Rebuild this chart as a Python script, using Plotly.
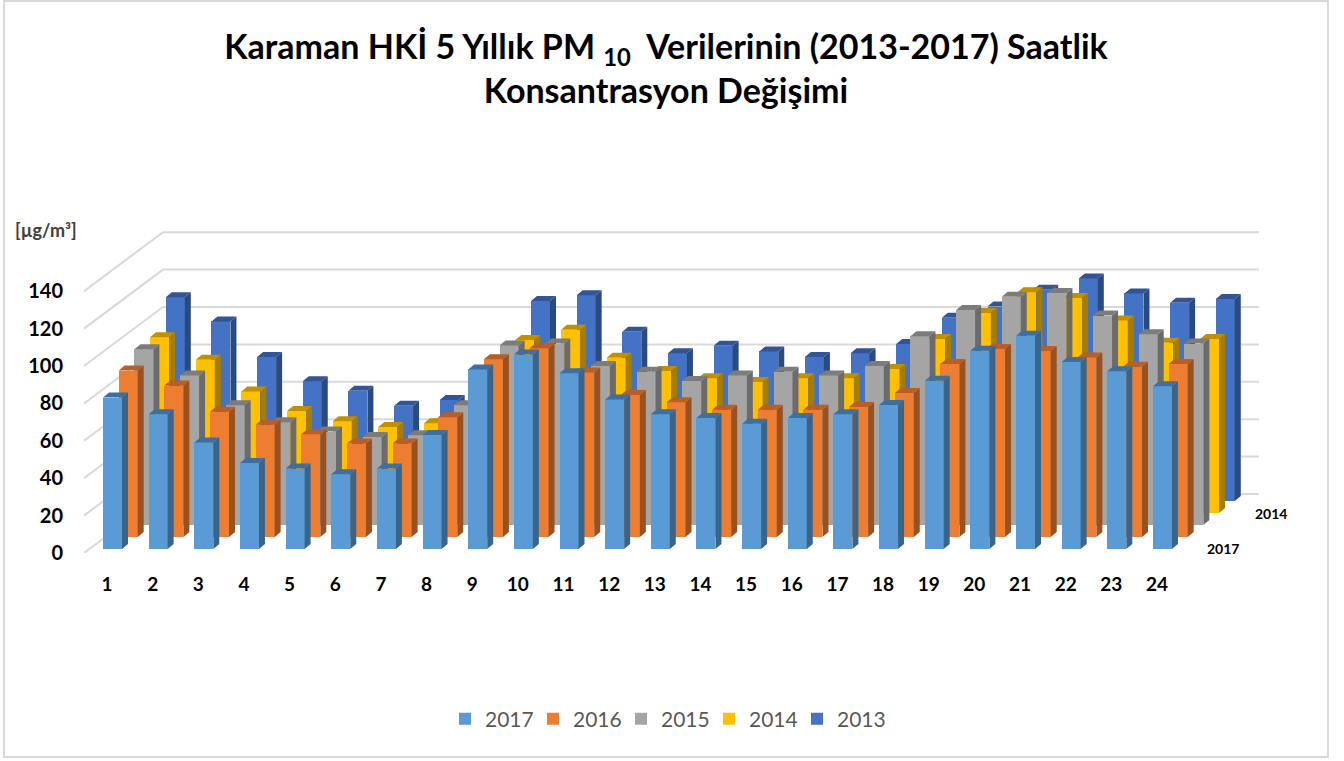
import plotly.graph_objects as go

HOURS = list(range(1, 25))
YEARS = ["2013", "2014", "2015", "2016", "2017"]
V2017 = [81, 72, 57, 46, 43, 40, 43, 61, 96, 104, 94, 80, 72, 70, 67, 70, 72, 77, 90, 106, 114, 100, 95, 87]
V2016 = [89, 81, 67, 60, 55, 50, 50, 64, 95, 101, 88, 76, 72, 68, 68, 68, 69.5, 77, 92.5, 100.5, 99.5, 96, 91, 92.5]
V2015 = [94, 80, 64, 55, 50, 47, 48, 64, 96, 97, 85, 82, 77, 80, 82, 80, 85, 101, 115, 122, 124, 112, 102, 97]
V2014 = [94, 82, 65, 54.5, 49, 46, 48, 58, 92.5, 98, 83, 76, 72, 70, 72, 72, 77, 93, 107, 118, 115, 103, 91, 93]
V2013 = [109, 96, 77, 64, 59, 51, 54, 60, 107, 110, 90.5, 79, 83, 80, 77, 79, 84, 98, 104, 113, 119, 111, 106, 108]
VALUES = [V2013, V2014, V2015, V2016, V2017]
FRONT = ["#4472C4", "#FFC000", "#A5A5A5", "#ED7D31", "#5B9BD5"]
SIDE = ["#2A4A80", "#A67D00", "#6B6B6B", "#9A5120", "#3A658B"]
TOP = ["#335594", "#BF9000", "#7C7C7C", "#B85F26", "#3F6F9C"]
YTICKS = [0, 20, 40, 60, 80, 100, 120, 140]

W, H = 1344, 761
L, R, T, B = 84, 1259, 190, 553      # plot box in page pixels
PX_X = 45.65                         # pixels per hour
PX_Y = 1.87                          # pixels per µg/m³
XMIN = 1 - (107 - L) / PX_X
XMAX = 1 + (R - 107) / PX_X
YMAX = (B - T) / PX_Y
XR, YR = [XMIN, XMAX], [0, YMAX]

BAR_W = 19 / PX_X
BAR_OFF = -4 / PX_X
DEPTH_X = 6 / PX_X
DEPTH_Y = 5 / PX_Y
ROW_X = 15.7 / PX_X
ROW_Y = 12 / PX_Y
BASE0 = 4 / PX_Y
WALL_X = 79 / PX_X
WALL_Y = 59 / PX_Y


def px(x):
    return (x - L) / (R - L)


def py(y):
    return (B - y) / (B - T)


fig = go.Figure()

# walls: gridlines run up the side wall, then along the back wall
gx, gy = [], []
for v in YTICKS:
    gx += [XMIN, XMIN + WALL_X, XMAX, None]
    gy += [v, v + WALL_Y, v + WALL_Y, None]
fig.add_trace(go.Scatter(x=gx, y=gy, mode="lines", line=dict(color="#D9D9D9", width=2),
                         hoverinfo="skip", showlegend=False, xaxis="x", yaxis="y"))

for s, (year, vals) in enumerate(zip(YEARS, VALUES)):
    row = len(YEARS) - 1 - s
    ax = str(s + 2)
    dx = row * ROW_X
    base = BASE0 + row * ROW_Y
    xs = [h + dx for h in HOURS]
    fig.add_trace(go.Bar(x=xs, y=vals, base=base, width=BAR_W, offset=BAR_OFF, name=year,
                         marker=dict(color=FRONT[s], line=dict(width=0)),
                         xaxis="x" + ax, yaxis="y" + ax,
                         hovertemplate=year + " %{y}<extra></extra>"))
    sx, sy, tx, ty = [], [], [], []
    for x, v in zip(xs, vals):
        a = x + BAR_OFF
        b = a + BAR_W
        t = base + v
        sx += [b, b + DEPTH_X, b + DEPTH_X, b, b, None]
        sy += [base, base + DEPTH_Y, t + DEPTH_Y, t, base, None]
        tx += [a, b, b + DEPTH_X, a + DEPTH_X, a, None]
        ty += [t, t, t + DEPTH_Y, t + DEPTH_Y, t, None]
    fig.add_trace(go.Scatter(x=sx, y=sy, mode="none", fill="toself", fillcolor=SIDE[s],
                             hoverinfo="skip", showlegend=False, xaxis="x" + ax, yaxis="y" + ax))
    fig.add_trace(go.Scatter(x=tx, y=ty, mode="none", fill="toself", fillcolor=TOP[s],
                             hoverinfo="skip", showlegend=False, xaxis="x" + ax, yaxis="y" + ax))

layout = dict(
    width=W, height=H, autosize=False,
    paper_bgcolor="white", plot_bgcolor="rgba(0,0,0,0)",
    margin=dict(l=L, r=W - R, t=T, b=H - B, autoexpand=False),
    font=dict(family="Lato", color="black"),
    bargap=0,
    title=dict(text="<b>Karaman HKİ 5 Yıllık PM <sub>10</sub>  Verilerinin (2013-2017) Saatlik<br>Konsantrasyon Değişimi</b>",
               font=dict(family="Lato", size=34, color="black"), x=666 / W, xanchor="center",
               y=1 - 59 / H, yanchor="top", xref="container", yref="container"),
    legend=dict(orientation="h", traceorder="reversed", x=px(665), xanchor="center", y=py(719),
                yanchor="middle", font=dict(family="Lato", size=21, color="#595959"),
                itemwidth=30, entrywidth=43, entrywidthmode="pixels",
                bgcolor="rgba(0,0,0,0)", itemclick=False, itemdoubleclick=False),
    xaxis=dict(range=XR, tickmode="array", tickvals=HOURS, ticktext=["<b>%d</b>" % h for h in HOURS],
               showgrid=False, zeroline=False, showline=False, ticks="",
               ticklabelstandoff=18, tickfont=dict(family="Lato", size=19, color="black")),
    yaxis=dict(range=YR, tickmode="array", tickvals=YTICKS, ticktext=["<b>%d</b>" % v for v in YTICKS],
               showgrid=False, zeroline=False, showline=False, ticks="",
               ticklabelstandoff=20, tickfont=dict(family="Lato", size=20, color="black")),
    annotations=[
        dict(text="<b>[µg/m³]</b>", x=px(46), y=py(230), xref="paper", yref="paper", showarrow=False,
             xanchor="center", yanchor="middle", font=dict(family="Lato", size=18, color="#404040")),
        dict(text="<b>2014</b>", x=px(1271), y=py(513), xref="paper", yref="paper", showarrow=False,
             xanchor="center", yanchor="middle", font=dict(family="Lato", size=14, color="black")),
        dict(text="<b>2017</b>", x=px(1223), y=py(548), xref="paper", yref="paper", showarrow=False,
             xanchor="center", yanchor="middle", font=dict(family="Lato", size=14, color="black")),
    ],
    shapes=[dict(type="rect", xref="paper", yref="paper", x0=px(4), x1=px(1328), y0=py(757), y1=py(1),
                 line=dict(color="#D9D9D9", width=2), layer="below")],
)
for s in range(len(YEARS)):
    ax = str(s + 2)
    layout["xaxis" + ax] = dict(range=XR, overlaying="x", anchor="y" + ax, visible=False)
    layout["yaxis" + ax] = dict(range=YR, overlaying="y", anchor="x" + ax, visible=False)
fig.update_layout(**layout)
fig.write_html("out.html", config={"displayModeBar": False},
               post_script="document.body.style.margin='0';document.documentElement.style.overflow='hidden';")
